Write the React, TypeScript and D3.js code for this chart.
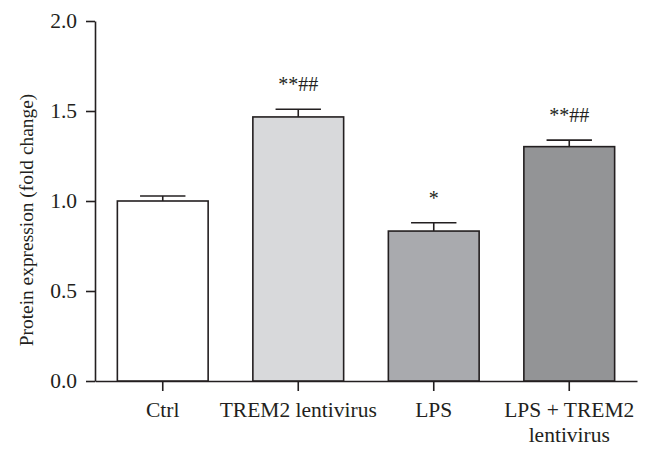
import React, { useEffect, useRef } from "react";
import * as d3 from "d3";

// groups on the x axis (the last one wraps onto two lines)
const groups = ["Ctrl", "TREM2 lentivirus", "LPS", "LPS + TREM2 lentivirus"];
const groupLines = [["Ctrl"], ["TREM2 lentivirus"], ["LPS"], ["LPS + TREM2", "lentivirus"]];
// fold change, mean and SEM
const means = [1.0, 1.467, 0.833, 1.302];
const errors = [0.028, 0.043, 0.046, 0.036];
const marks = ["", "**##", "*", "**##"];
const barColors = ["#ffffff", "#d8d9db", "#a9aaae", "#939496"];
const yTicks = [0, 0.5, 1.0, 1.5, 2.0];

const W = 650;
const H = 456;
const ink = "#231f20";
const font = "'Liberation Serif', 'Times New Roman', serif";

const App = () => {
  const ref = useRef<SVGSVGElement>(null);

  useEffect(() => {
    const svg = d3.select(ref.current);
    svg.selectAll("*").remove();

    const x = d3
      .scaleBand()
      .domain(groups)
      .range([95, 637])
      .paddingInner(0.33)
      .paddingOuter(0.165);

    const y = d3.scaleLinear().domain([0, 2]).range([381, 21]);

    // y axis
    const yAxis = svg
      .append("g")
      .attr("transform", "translate(95,0)")
      .call(
        d3
          .axisLeft(y)
          .tickValues(yTicks)
          .tickFormat(d3.format(".1f"))
          .tickSize(9)
          .tickSizeOuter(0)
          .tickPadding(9)
      );
    yAxis.selectAll("path, line").attr("stroke", ink).attr("stroke-width", 1.6);
    yAxis
      .selectAll("text")
      .attr("font-family", font)
      .attr("font-size", 21.5)
      .attr("fill", ink);

    // x axis, labels drawn by hand so the last one can wrap
    const xAxis = svg
      .append("g")
      .attr("transform", "translate(0,381)")
      .call(d3.axisBottom(x).tickSize(10).tickSizeOuter(0).tickFormat(() => ""));
    xAxis.selectAll("path, line").attr("stroke", ink).attr("stroke-width", 1.6);

    groups.forEach((g, i) => {
      const t = svg
        .append("text")
        .attr("x", x(g)! + x.bandwidth() / 2)
        .attr("y", 417)
        .attr("text-anchor", "middle")
        .attr("font-family", font)
        .attr("font-size", 21.5)
        .attr("fill", ink);
      groupLines[i].forEach((line, j) => {
        t.append("tspan")
          .attr("x", x(g)! + x.bandwidth() / 2)
          .attr("dy", j === 0 ? 0 : 25)
          .text(line);
      });
    });

    // y axis title
    svg
      .append("text")
      .attr("transform", "translate(33,220) rotate(-90)")
      .attr("text-anchor", "middle")
      .attr("font-family", font)
      .attr("font-size", 19.4)
      .attr("fill", ink)
      .text("Protein expression (fold change)");

    const plot = svg.append("g");

    // error bars (upper half only)
    groups.forEach((g, i) => {
      const cx = x(g)! + x.bandwidth() / 2;
      const top = y(means[i] + errors[i]);
      plot
        .append("line")
        .attr("x1", cx)
        .attr("x2", cx)
        .attr("y1", y(means[i]))
        .attr("y2", top)
        .attr("stroke", ink)
        .attr("stroke-width", 1.6);
      plot
        .append("line")
        .attr("x1", cx - x.bandwidth() / 4)
        .attr("x2", cx + x.bandwidth() / 4)
        .attr("y1", top)
        .attr("y2", top)
        .attr("stroke", ink)
        .attr("stroke-width", 1.6);
      if (marks[i]) {
        plot
          .append("text")
          .attr("x", cx)
          .attr("y", top - 18)
          .attr("text-anchor", "middle")
          .attr("font-family", font)
          .attr("font-size", 20)
          .attr("fill", ink)
          .text(marks[i]);
      }
    });

    // bars
    plot
      .selectAll("rect")
      .data(means)
      .join("rect")
      .attr("x", (d, i) => x(groups[i])!)
      .attr("y", (d) => y(d))
      .attr("width", x.bandwidth())
      .attr("height", (d) => y(0) - y(d))
      .attr("fill", (d, i) => barColors[i])
      .attr("stroke", ink)
      .attr("stroke-width", 1.6);
  }, []);

  return (
    <div>
      <svg
        ref={ref}
        width={W}
        height={H}
        style={{ position: "absolute", left: 0, top: 0, background: "#fff" }}
      ></svg>
    </div>
  );
};

export default App;
